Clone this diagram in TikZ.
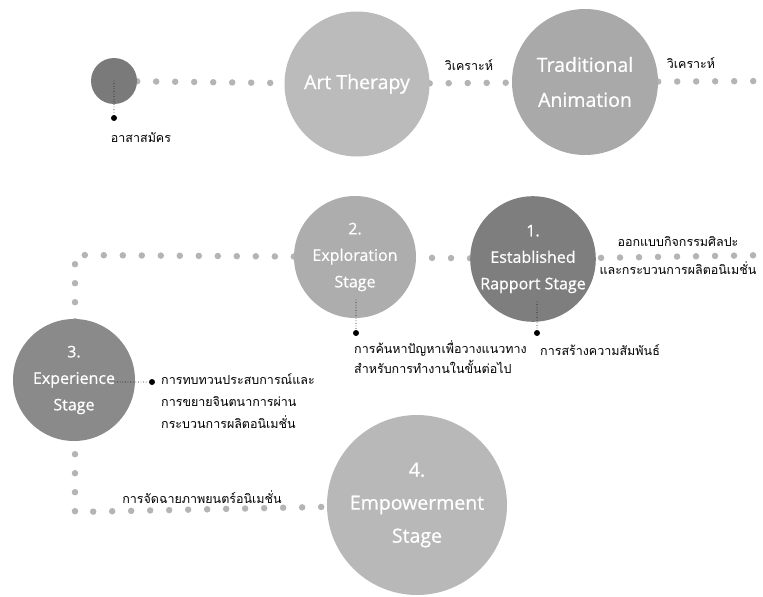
\documentclass[tikz,border=0pt]{standalone}
\usepackage{fontspec}
\setmainfont{Open Sans}[FakeBold=0.7]
\newfontfamily\thaifont[Script=Thai]{Loma}
\usetikzlibrary{positioning,backgrounds}

\definecolor{trackgray}{HTML}{B4B4B4}
\definecolor{volgray}{HTML}{7A7A7A}
\definecolor{artgray}{HTML}{BBBBBB}
\definecolor{animgray}{HTML}{A9A9A9}
\definecolor{explgray}{HTML}{ADADAD}
\definecolor{rappgray}{HTML}{7E7E7E}
\definecolor{expegray}{HTML}{8A8A8A}
\definecolor{empogray}{HTML}{B8B8B8}

\begin{document}
\begin{tikzpicture}[x=1pt, y=-1pt,
    stage/.style={circle, inner sep=0pt, text=white, align=center},
    bigtext/.style={font=\fontsize{19.5}{35}\selectfont},
    midtext/.style={font=\fontsize{16}{26.5}\selectfont},
    track/.style={trackgray, line width=6.5pt, line cap=round, dash pattern=on 0pt off 19pt},
    leader/.style={black, line width=0.9pt, line cap=round, dash pattern=on 0pt off 2.6pt},
    tip/.style={circle, fill=black, inner sep=0pt, minimum size=6pt},
    note/.style={font=\thaifont\fontsize{12.5}{21}\selectfont, align=left, inner sep=1pt}]

    \useasboundingbox (0,0) rectangle (763,597);

    % Top row: volunteers -> art therapy -> traditional animation
    \node[stage, fill=volgray, minimum size=46pt] (vol) at (114,81) {};
    \node[stage, fill=artgray, minimum size=145pt, bigtext] (art) at (357,84) {Art Therapy};
    \node[stage, fill=animgray, minimum size=146pt, bigtext] (anim) at (585,82) {Traditional\\Animation};
    \coordinate (toprt) at (772,81);

    \node[tip] (voltip) at (114,118) {};
    \node[note] (volnote) at (141,138) {อาสาสมัคร};
    \node[note] (ana1) at (469,65) {วิเคราะห์};
    \node[note] (ana2) at (691,63) {วิเคราะห์};

    % Middle row: stage 1 and stage 2
    \node[stage, fill=rappgray, minimum size=122pt, midtext] (rapp) at (533,259) {1.\\Established\\Rapport Stage};
    \node[stage, fill=explgray, minimum size=122pt, midtext] (expl) at (355,257) {2.\\Exploration\\Stage};
    \coordinate (midrt) at (772,255);
    \coordinate (midlt) at (75,255);

    \node[note, align=center, font=\thaifont\fontsize{12.5}{28}\selectfont] (design) at (678,256) {ออกแบบกิจกรรมศิลปะ\\และกระบวนการผลิตอนิเมชั่น};

    \coordinate (rapptop) at (537,302);
    \node[tip] (rapptip) at (537,333) {};
    \node[note, anchor=west] (rappnote) at (539,350) {การสร้างความสัมพันธ์};

    \coordinate (expltop) at (356,300);
    \node[tip] (expltip) at (356,333) {};
    \node[note, anchor=north west, font=\thaifont\fontsize{12.5}{20}\selectfont] (explnote) at (353,339) {การค้นหาปัญหาเพื่อวางแนวทาง\\สำหรับการทำงานในขั้นต่อไป};

    % Stage 3 and stage 4
    \node[stage, fill=expegray, minimum size=122pt, midtext] (expe) at (74,380) {3.\\Experience\\Stage};
    \coordinate (lowlt) at (75,512);
    \node[stage, fill=empogray, minimum size=180pt, font=\fontsize{19.5}{33}\selectfont] (empo) at (417,505) {4.\\Empowerment\\Stage};

    \coordinate (expein) at (115,382);
    \node[tip] (expetip) at (152,382) {};
    \node[note, anchor=north west, font=\thaifont\fontsize{12.5}{22}\selectfont] (expenote) at (160,372) {การทบทวนประสบการณ์และ\\การขยายจินตนาการผ่าน\\กระบวนการผลิตอนิเมชั่น};

    \node[note] (shownote) at (202,497) {การจัดฉายภาพยนตร์อนิเมชั่น};

    % Dotted tracks behind the circles
    \begin{scope}[on background layer]
        \draw[track] (vol) -- (art) -- (anim) -- (toprt);
        \draw[track] (midrt) -- (rapp) -- (expl) -- (midlt) -- (lowlt) -- (empo);
    \end{scope}

    % Leaders to the notes
    \draw[leader] (vol.center) -- (voltip);
    \draw[leader] (rapptop) -- (rapptip);
    \draw[leader] (expltop) -- (expltip);
    \draw[leader] (expein) -- (expetip);

\end{tikzpicture}
\end{document}
